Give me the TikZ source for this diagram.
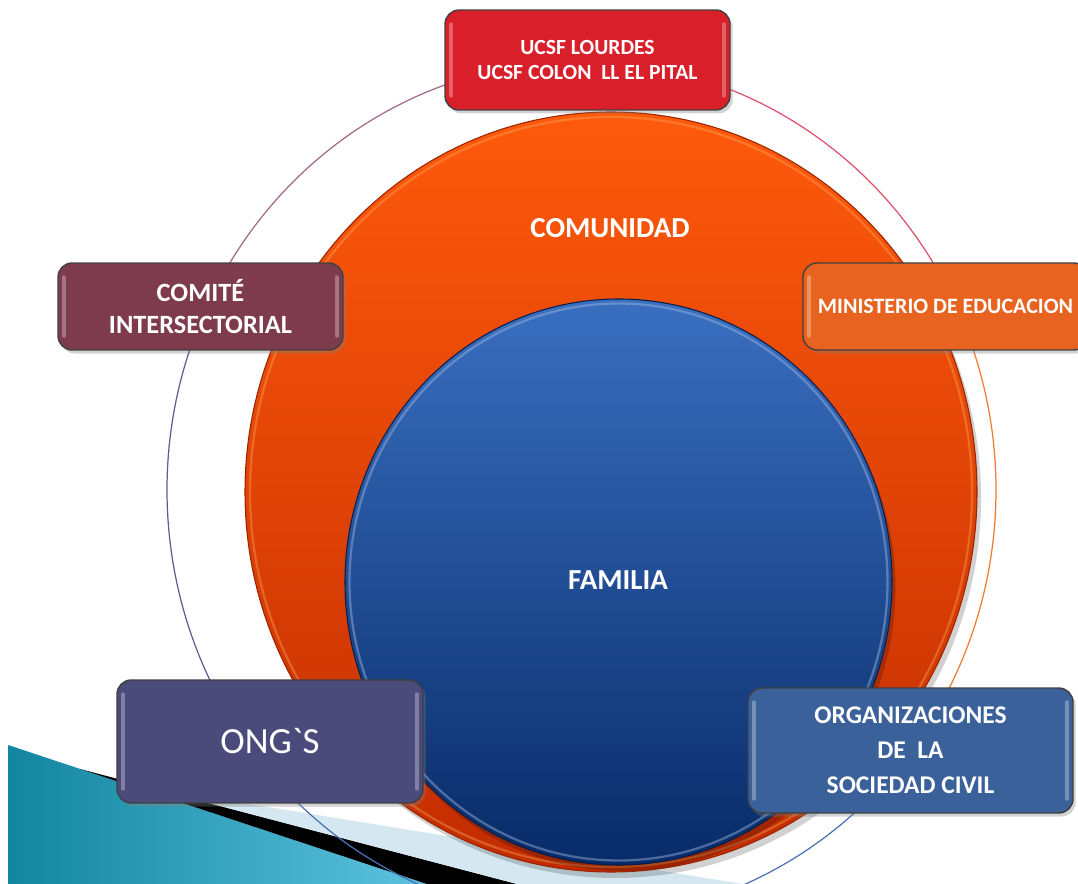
\documentclass[tikz,border=0pt]{standalone}
\usepackage{fontspec}
\setmainfont{Carlito}
\newfontfamily\plainFont{Carlito}
\usetikzlibrary{shadows}

\definecolor{ucsfRed}{HTML}{D81F2A}
\definecolor{comiteWine}{HTML}{7E3B4D}
\definecolor{educOrange}{HTML}{E8631F}
\definecolor{ongSlate}{HTML}{4A4A7B}
\definecolor{civilBlue}{HTML}{3A619A}
\definecolor{diskOrangeTop}{HTML}{FE5A0C}
\definecolor{diskOrangeBot}{HTML}{C22C00}
\definecolor{diskBlueTop}{HTML}{3A6FC0}
\definecolor{diskBlueBot}{HTML}{082B68}
\definecolor{tealDark}{HTML}{13859F}
\definecolor{tealLight}{HTML}{5CC3E0}
\definecolor{paleBand}{HTML}{D5E8F1}
\definecolor{ringOrange}{HTML}{F07A30}
\definecolor{ringRed}{HTML}{E0506A}
\definecolor{ringWine}{HTML}{A06A84}
\definecolor{ringNavy}{HTML}{5A5E92}
\definecolor{ringBlue}{HTML}{4A72B4}

\begin{document}
\begin{tikzpicture}[
    x=0.02cm, y=-0.02cm,
    tagBox/.style={draw=black!75, line width=0.8pt, rounded corners=8pt, text=white, align=center, inner sep=2pt,
        drop shadow={shadow xshift=1.5pt, shadow yshift=-2pt, opacity=.35},
        path picture={
            \draw[white, opacity=.3, line width=2pt, line cap=round]
                ([xshift=3.5pt, yshift=-8pt]path picture bounding box.north west) -- ([xshift=3.5pt, yshift=8pt]path picture bounding box.south west);
            \draw[white, opacity=.3, line width=2pt, line cap=round]
                ([xshift=-3.5pt, yshift=-8pt]path picture bounding box.north east) -- ([xshift=-3.5pt, yshift=8pt]path picture bounding box.south east);
        }},
    diskLabel/.style={text=white, font=\bfseries\fontsize{16.5}{20}\selectfont}
]
    \useasboundingbox (0,0) rectangle (1078,884);

    % corner ornament
    \shade[left color=tealDark, right color=tealLight] (8,745) -- (427,884) -- (8,884) -- cycle;
    \fill[black] (80,769) -- (517,884) -- (427,884) -- cycle;
    \fill[paleBand] (151,788) -- (743,884) -- (517,884) -- cycle;

    % thin outer ring
    \foreach \from/\to/\col in {-25/35/ringOrange, 35/140/ringBlue, 140/205/ringNavy, 205/270/ringWine, 270/335/ringRed}
        \draw[\col, line width=0.7pt] (581.5,490) ++(\from:414.5 and 429) arc[start angle=\from, end angle=\to, x radius=414.5, y radius=429];

    % community and family disks
    \fill[black, opacity=.18] (615,498) ellipse[x radius=366, y radius=380];
    \shade[top color=diskOrangeTop, bottom color=diskOrangeBot, draw=diskOrangeBot!80!black, line width=.6pt] (611,492) ellipse[x radius=366, y radius=380];
    \draw[orange!60!white, opacity=.35, line width=1.3pt] (611,492) ellipse[x radius=361, y radius=375];

    \fill[black, opacity=.2] (622,588) ellipse[x radius=273.5, y radius=283];
    \shade[top color=diskBlueTop, bottom color=diskBlueBot, draw=diskBlueBot!70!black, line width=.6pt] (618.5,582) ellipse[x radius=273.5, y radius=283];
    \draw[diskBlueTop!50!white, opacity=.45, line width=1.3pt] (618.5,582) ellipse[x radius=269, y radius=278.5];

    \node[diskLabel] (comunidad) at (610,228) {COMUNIDAD};
    \node[diskLabel] (familia) at (618,580) {FAMILIA};

    % actors around the ring
    \node[tagBox, fill=ucsfRed, minimum width=5.7cm, minimum height=2cm, font=\bfseries\fontsize{12.3}{14.7}\selectfont] (ucsf) at (587.5,60) {UCSF LOURDES\\UCSF COLON\ \ LL EL PITAL};
    \node[tagBox, fill=comiteWine, minimum width=5.7cm, minimum height=1.74cm, font=\bfseries\fontsize{15}{18.7}\selectfont] (comite) at (200.5,306.5) {COMITÉ\\INTERSECTORIAL};
    \node[tagBox, fill=educOrange, minimum width=5.7cm, minimum height=1.74cm, font=\bfseries\fontsize{12.5}{16}\selectfont] (ministerio) at (945.5,306.5) {MINISTERIO DE EDUCACION};
    \node[tagBox, fill=ongSlate, minimum width=6.12cm, minimum height=2.46cm, font=\plainFont\fontsize{21}{24}\selectfont] (ongs) at (270,741.5) {ONG`S};
    \node[tagBox, fill=civilBlue, minimum width=6.5cm, minimum height=2.5cm, font=\bfseries\fontsize{14.5}{19.8}\selectfont] (sociedad) at (910.5,750.5) {ORGANIZACIONES\\DE\ \ LA\\SOCIEDAD CIVIL};
\end{tikzpicture}
\end{document}
